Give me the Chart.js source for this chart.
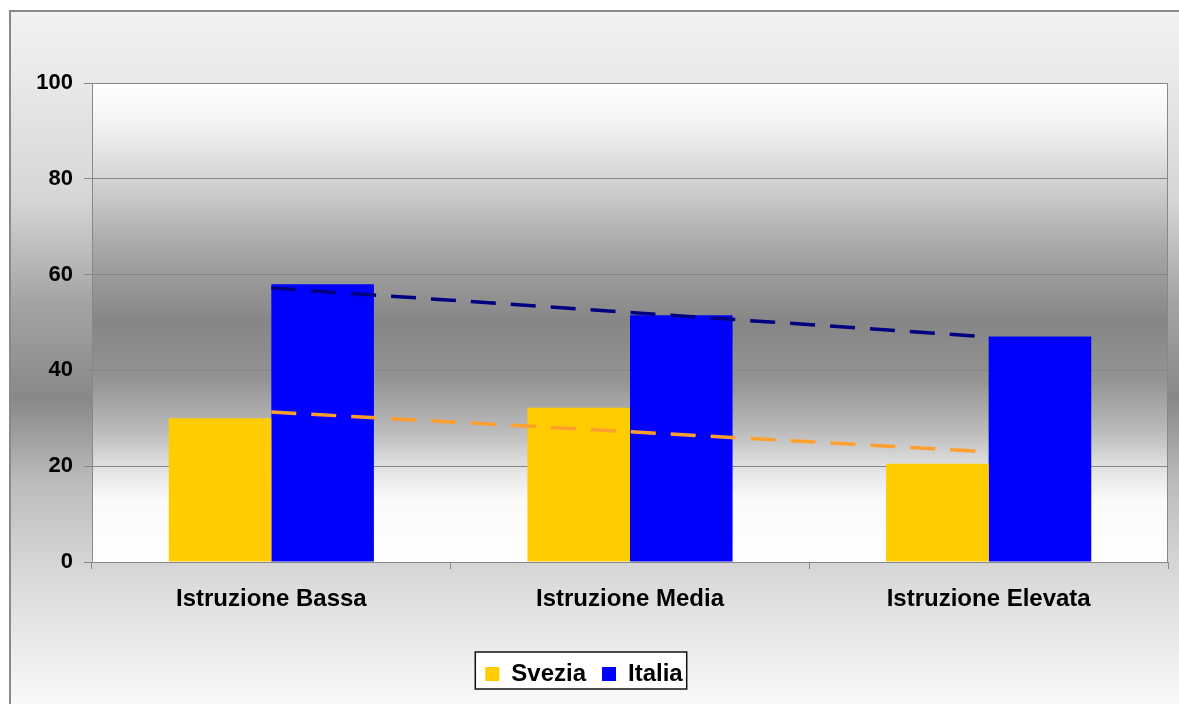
<!DOCTYPE html>
<html>
<head>
<meta charset="utf-8">
<script src="https://cdn.jsdelivr.net/npm/chart.js@4.4.1/dist/chart.umd.min.js"></script>
<style>
  html, body { margin: 0; padding: 0; background: #ffffff; }
  #wrap { width: 1179px; height: 704px; }
</style>
</head>
<body>
<div id="wrap"><canvas id="chart" width="1179" height="704"></canvas></div>
<script>
// Categories and series
const categories = ['Istruzione Bassa', 'Istruzione Media', 'Istruzione Elevata'];
const svezia = [30, 32.2, 20.5];
const italia = [58, 51.5, 47.1];
// Linear trend lines through each series
const trendSvezia = [31.3, 27.2, 23.0];
const trendItalia = [57.2, 52.1, 47.0];
const yTicks = [0, 20, 40, 60, 80, 100];

const FONT = "'Liberation Sans', Arial, sans-serif";

// Panel backgrounds, frames and the legend box
const backdrop = {
  id: 'backdrop',
  beforeDraw(chart) {
    const { ctx, chartArea: a, width, height } = chart;
    ctx.save();
    ctx.fillStyle = '#ffffff';
    ctx.fillRect(0, 0, width, height);

    // outer panel: light at the edges, darker towards the middle
    const g = ctx.createLinearGradient(0, 11, 0, height);
    g.addColorStop(0.00, '#f2f2f2');
    g.addColorStop(0.07, '#ececec');
    g.addColorStop(0.27, '#d6d6d6');
    g.addColorStop(0.42, '#a4a4a4');
    g.addColorStop(0.56, '#888888');
    g.addColorStop(0.68, '#bcbcbc');
    g.addColorStop(0.80, '#d6d6d6');
    g.addColorStop(1.00, '#fafafa');
    ctx.fillStyle = g;
    ctx.fillRect(10, 11, width - 10, height - 11);
    ctx.strokeStyle = '#8a8a8a';
    ctx.lineWidth = 2;
    ctx.beginPath();
    ctx.moveTo(10, height);
    ctx.lineTo(10, 11);
    ctx.lineTo(width, 11);
    ctx.stroke();

    // plot area
    const p = ctx.createLinearGradient(0, a.top, 0, a.bottom);
    p.addColorStop(0.00, '#ffffff');
    p.addColorStop(0.08, '#f4f4f4');
    p.addColorStop(0.20, '#d4d4d4');
    p.addColorStop(0.35, '#a6a6a6');
    p.addColorStop(0.50, '#868686');
    p.addColorStop(0.62, '#949494');
    p.addColorStop(0.72, '#b8b8b8');
    p.addColorStop(0.80, '#e0e0e0');
    p.addColorStop(0.87, '#fafafa');
    p.addColorStop(1.00, '#ffffff');
    ctx.fillStyle = p;
    ctx.fillRect(a.left, a.top, a.right - a.left, a.bottom - a.top);
    ctx.strokeStyle = '#888888';
    ctx.lineWidth = 1;
    ctx.strokeRect(a.left + 0.5, a.top + 0.5, a.right - a.left - 1, a.bottom - a.top);

    // legend frame
    const boxes = chart.legend && chart.legend.legendHitBoxes;
    if (boxes && boxes.length) {
      const first = boxes[0];
      const last = boxes[boxes.length - 1];
      const cy = first.top + first.height / 2;
      const left = first.left - 10;
      const right = last.left + last.width + 4;
      const top = cy - 22;
      const bottom = cy + 15;
      ctx.fillStyle = '#ffffff';
      ctx.fillRect(left, top, right - left, bottom - top);
      ctx.strokeStyle = '#111111';
      ctx.lineWidth = 1.5;
      ctx.strokeRect(left, top, right - left, bottom - top);
    }
    ctx.restore();
  }
};

new Chart(document.getElementById('chart'), {
  type: 'bar',
  data: {
    labels: categories,
    datasets: [
      {
        type: 'line', label: 'Tendenza Italia', data: trendItalia,
        borderColor: '#000080', borderWidth: 3.5, borderDash: [25, 15],
        pointRadius: 0, fill: false, order: 0
      },
      {
        type: 'line', label: 'Tendenza Svezia', data: trendSvezia,
        borderColor: '#ff9f2e', borderWidth: 3.5, borderDash: [25, 15],
        pointRadius: 0, fill: false, order: 0
      },
      {
        label: 'Svezia', data: svezia, backgroundColor: '#ffcc00',
        borderWidth: 0, categoryPercentage: 0.572, barPercentage: 1, order: 1
      },
      {
        label: 'Italia', data: italia, backgroundColor: '#0000ff',
        borderWidth: 0, categoryPercentage: 0.572, barPercentage: 1, order: 1
      }
    ]
  },
  options: {
    responsive: false,
    animation: false,
    events: [],
    layout: { padding: { left: 0, right: 11, top: 83, bottom: 8 } },
    plugins: {
      tooltip: { enabled: false },
      legend: {
        position: 'bottom',
        labels: {
          filter: (item) => item.text === 'Svezia' || item.text === 'Italia',
          boxWidth: 14, boxHeight: 14, padding: 16,
          color: '#000000',
          font: { family: FONT, size: 24, weight: 'bold' }
        }
      }
    },
    scales: {
      x: {
        offset: true,
        grid: {
          display: true, drawOnChartArea: false, drawTicks: true,
          tickLength: 7, color: '#888888', offset: true
        },
        border: { color: '#888888', width: 1 },
        ticks: {
          color: '#000000', padding: 16, maxRotation: 0,
          font: { family: FONT, size: 24, weight: 'bold' }
        },
        afterFit(scale) { scale.height = 84; }
      },
      y: {
        min: 0, max: 100,
        afterBuildTicks(scale) { scale.ticks = yTicks.map(v => ({ value: v })); },
        grid: { color: '#868686', lineWidth: 1, tickLength: 8, drawTicks: true },
        border: { color: '#888888', width: 1 },
        ticks: {
          color: '#000000', padding: 11,
          font: { family: FONT, size: 22, weight: 'bold' }
        },
        afterFit(scale) { scale.width = 92; }
      }
    }
  },
  plugins: [backdrop]
});
</script>
</body>
</html>
